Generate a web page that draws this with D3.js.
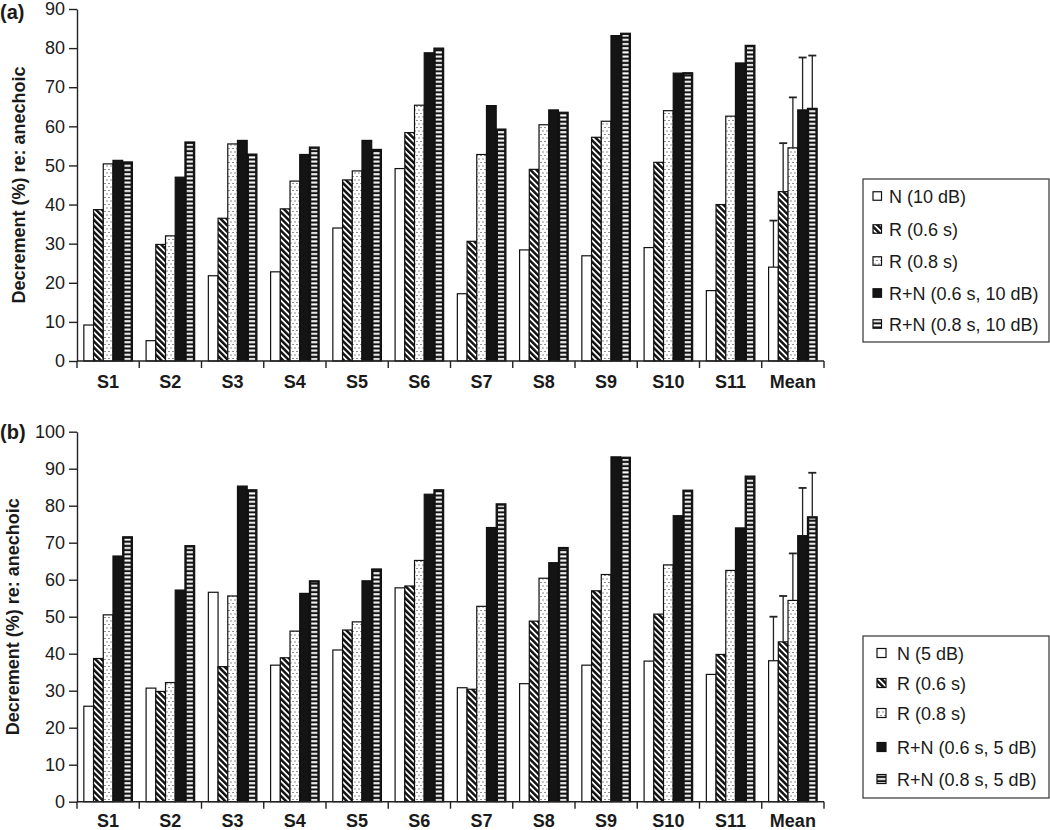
<!DOCTYPE html>
<html><head><meta charset="utf-8">
<script src="https://cdn.jsdelivr.net/npm/d3@7"></script>
<style>body{margin:0;background:#fff}text{font-family:"Liberation Sans",Arial,sans-serif;fill:#1a1a1a}</style>
</head><body><svg id="c" width="1050" height="830"></svg>
<script>
// ---------- DATA ----------
const categories = ["S1","S2","S3","S4","S5","S6","S7","S8","S9","S10","S11","Mean"];

const seriesA = ["N (10 dB)","R (0.6 s)","R (0.8 s)","R+N (0.6 s, 10 dB)","R+N (0.8 s, 10 dB)"];
const seriesB = ["N (5 dB)","R (0.6 s)","R (0.8 s)","R+N (0.6 s, 5 dB)","R+N (0.8 s, 5 dB)"];

// panel (a)
const a_N    = [9.2, 5.2, 21.8, 22.8, 34.0, 49.2, 17.2, 28.4, 26.9, 29.0, 18.0, 24.0];
const a_R06  = [38.7, 29.8, 36.5, 38.9, 46.3, 58.4, 30.6, 49.0, 57.2, 50.8, 40.0, 43.3];
const a_R08  = [50.4, 32.0, 55.5, 46.0, 48.6, 65.4, 52.8, 60.4, 61.3, 64.0, 62.6, 54.5];
const a_RN06 = [51.3, 47.0, 56.4, 52.8, 56.4, 78.8, 65.3, 64.2, 83.2, 73.6, 76.2, 64.2];
const a_RN08 = [50.9, 56.0, 52.9, 54.7, 54.1, 80.0, 59.3, 63.6, 83.8, 73.7, 80.7, 64.6];
const a_meanErrTop = [35.9, 55.7, 67.4, 77.6, 78.1];
const a_yTicks = [0,10,20,30,40,50,60,70,80,90];

// panel (b)
const b_N    = [25.8, 30.7, 56.6, 36.9, 41.0, 57.8, 30.8, 31.9, 36.9, 38.0, 34.4, 38.1];
const b_R06  = [38.7, 29.8, 36.5, 38.9, 46.4, 58.3, 30.4, 48.8, 57.0, 50.7, 39.8, 43.2];
const b_R08  = [50.5, 32.2, 55.6, 46.1, 48.6, 65.2, 52.8, 60.4, 61.4, 64.0, 62.5, 54.4];
const b_RN06 = [66.4, 57.2, 85.3, 56.3, 59.7, 83.1, 74.1, 64.6, 93.2, 77.3, 74.0, 71.9];
const b_RN08 = [71.6, 69.2, 84.3, 59.7, 62.9, 84.3, 80.5, 68.7, 93.1, 84.2, 88.0, 77.0];
const b_meanErrTop = [50.0, 55.6, 67.1, 84.8, 88.9];
const b_yTicks = [0,10,20,30,40,50,60,70,80,90,100];

// ---------- DRAW ----------
const svg = d3.select("#c");
const defs = svg.append("defs");

// diagonal "\" hatch
const pd = defs.append("pattern").attr("id","diag").attr("patternUnits","userSpaceOnUse")
  .attr("width",4.3).attr("height",4.3).attr("patternTransform","rotate(-45)");
pd.append("rect").attr("width",4.3).attr("height",4.3).attr("fill","#fff");
pd.append("rect").attr("width",2.5).attr("height",4.3).attr("fill","#111");

// dots
const pdots = defs.append("pattern").attr("id","dots").attr("patternUnits","userSpaceOnUse")
  .attr("width",4).attr("height",7);
pdots.append("rect").attr("width",4).attr("height",7).attr("fill","#fff");
pdots.append("rect").attr("x",0.5).attr("y",1).attr("width",1).attr("height",1).attr("fill","#222");
pdots.append("rect").attr("x",2.5).attr("y",4.5).attr("width",1).attr("height",1).attr("fill","#222");

// horizontal white dashes on black
const ph = defs.append("pattern").attr("id","hstripe").attr("patternUnits","userSpaceOnUse")
  .attr("width",4).attr("height",4.2);
ph.append("rect").attr("width",4).attr("height",4.2).attr("fill","#141414");
ph.append("rect").attr("y",1).attr("width",4).attr("height",2).attr("fill","#fff");

const fills = ["#fff","url(#diag)","url(#dots)","#141414","#141414"];

function panel(cfg){
  const g = svg.append("g");
  const x = d3.scaleBand().domain(categories).range([cfg.left, cfg.right])
    .paddingInner(0.22).paddingOuter(0.11);
  const xi = d3.scaleBand().domain(d3.range(cfg.series.length)).range([0, x.bandwidth()]);
  const y = d3.scaleLinear().domain([0, cfg.yMax]).range([cfg.bottom, cfg.top]);

  const rows = [];
  categories.forEach((c, ci) => cfg.values.forEach((arr, si) => rows.push({c, si, v: arr[ci]})));

  const bars = g.append("g");
  rows.forEach(d => {
    const bx = x(d.c) + xi(d.si), bw = xi.bandwidth(), by = y(d.v), bh = y(0) - y(d.v);
    bars.append("rect").attr("x",bx).attr("y",by).attr("width",bw).attr("height",bh)
      .attr("fill",fills[d.si]).attr("stroke","#111").attr("stroke-width",1.2);
    if (d.si === 4) {
      bars.append("rect").attr("x",bx+1.8).attr("y",by+1.8).attr("width",bw-3.6).attr("height",Math.max(0,bh-1.8))
        .attr("fill","url(#hstripe)");
    }
  });

  // error bars on Mean
  const eg = g.append("g").attr("stroke","#222").attr("stroke-width",1.3);
  cfg.errTop.forEach((t, si) => {
    const cx = x("Mean") + xi(si) + xi.bandwidth()/2;
    const v = cfg.values[si][categories.indexOf("Mean")];
    eg.append("line").attr("x1",cx).attr("x2",cx).attr("y1",y(v)).attr("y2",y(t));
    eg.append("line").attr("x1",cx-4).attr("x2",cx+4).attr("y1",y(t)).attr("y2",y(t)).attr("stroke-width",1.8);
  });

  // y axis
  const ya = g.append("g").attr("transform",`translate(${cfg.left},0)`)
    .call(d3.axisLeft(y).tickValues(cfg.yTicks).tickSize(8).tickSizeOuter(0).tickPadding(4));
  ya.selectAll("path,line").attr("stroke","#222").attr("stroke-width",1.4);
  ya.selectAll("text").attr("font-size",18).attr("font-family",null).style("fill","#1a1a1a");

  // x axis
  const xa = g.append("g");
  xa.append("line").attr("x1",cfg.left).attr("x2",cfg.right).attr("y1",y(0)).attr("y2",y(0))
    .attr("stroke","#222").attr("stroke-width",1.4);
  const bounds = categories.map(c => x(c) - x.step()*x.paddingInner()/2)
    .map((b,i)=> i===0 ? cfg.left : b).concat([cfg.right]);
  bounds.forEach(b => xa.append("line").attr("x1",b).attr("x2",b).attr("y1",y(0)).attr("y2",y(0)+7)
    .attr("stroke","#222").attr("stroke-width",1.4));
  categories.forEach(c => xa.append("text").attr("x",x(c)+x.bandwidth()/2).attr("y",y(0)+cfg.xLabelDy)
    .attr("text-anchor","middle").attr("font-size",18).attr("font-weight","bold").text(c));

  // y title
  g.append("text").attr("transform",`translate(${cfg.titleX},${(y(0)+y(cfg.yMax))/2}) rotate(-90)`)
    .attr("text-anchor","middle").attr("font-size",18).attr("font-weight","bold")
    .text("Decrement (%) re: anechoic");

  // panel label
  g.append("text").attr("x",0).attr("y",cfg.labelY).attr("font-size",20).attr("font-weight","bold").text(cfg.label);

  // legend
  const L = cfg.legend;
  const lg = g.append("g");
  lg.append("rect").attr("x",L.x).attr("y",L.y).attr("width",L.w).attr("height",L.h)
    .attr("fill","#fff").attr("stroke","#333").attr("stroke-width",1.2);
  cfg.series.forEach((s, si) => {
    const cy = L.rows[si];
    lg.append("rect").attr("x",L.sx).attr("y",cy-L.ss/2).attr("width",L.ss).attr("height",L.ss)
      .attr("fill", si===4 ? "url(#hstripe)" : fills[si]).attr("stroke","#111").attr("stroke-width",1.2);
    lg.append("text").attr("x",L.tx).attr("y",cy+6.5).attr("font-size",18).text(s);
  });
}

panel({
  left:77, right:824, top:9, bottom:361, yMax:90, yTicks:a_yTicks, xLabelDy:27,
  series: seriesA, values:[a_N,a_R06,a_R08,a_RN06,a_RN08], errTop:a_meanErrTop,
  titleX:25, label:"(a)", labelY:19,
  legend:{x:863, y:179, w:186, h:163, sx:873, ss:8.5, tx:889, rows:[196,229,261,293,324]}
});
panel({
  left:77, right:824, top:431.7, bottom:801.7, yMax:100, yTicks:b_yTicks, xLabelDy:25,
  series: seriesB, values:[b_N,b_R06,b_R08,b_RN06,b_RN08], errTop:b_meanErrTop,
  titleX:18.5, label:"(b)", labelY:439,
  legend:{x:863, y:636, w:186, h:162, sx:877, ss:9, tx:897, rows:[653,683,713,747,779]}
});
</script></body></html>
